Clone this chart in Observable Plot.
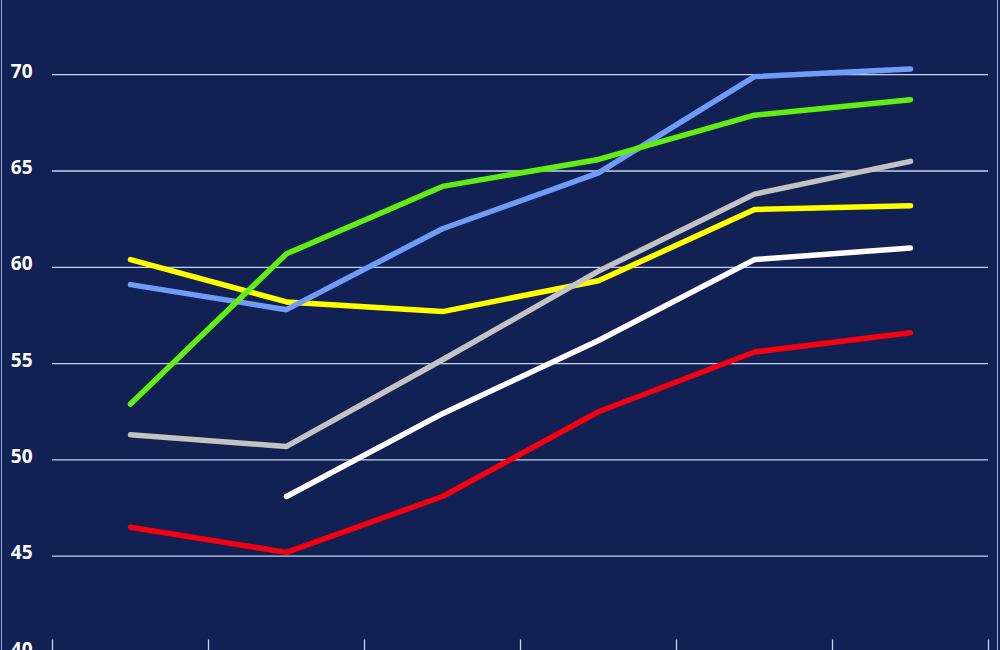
<!DOCTYPE html>
<html>
<head>
<meta charset="utf-8">
<script src="https://cdn.jsdelivr.net/npm/d3@7"></script>
<script src="https://cdn.jsdelivr.net/npm/@observablehq/plot@0.6"></script>
<style>
  html, body { margin: 0; padding: 0; background: #112154; }
  #wrap { position: relative; width: 1000px; height: 650px; overflow: hidden; background: #112154; }
  .edge { position: absolute; top: 0; width: 1px; height: 650px; background: #9fb0dc; }
</style>
</head>
<body>
<div id="wrap">
  <div id="chart"></div>
  <div class="edge" style="left:1px"></div>
  <div class="edge" style="left:997px"></div>
</div>
<script>
const categories = ["1", "2", "3", "4", "5", "6"];
const seriesNames = ["Series A", "Series B", "Series C", "Series D", "Series E", "Series F"];
const seriesColors = ["#ffff00", "#6f9cf6", "#62ee14", "#c3c3c3", "#ffffff", "#f5000f"];
const yellowValues = [60.4, 58.2, 57.7, 59.3, 63.0, 63.2];
const blueValues   = [59.1, 57.8, 62.0, 64.9, 69.9, 70.3];
const greenValues  = [52.9, 60.7, 64.2, 65.6, 67.9, 68.7];
const greyValues   = [51.3, 50.7, 55.2, 59.8, 63.8, 65.5];
const whiteValues  = [null, 48.1, 52.4, 56.2, 60.4, 61.0];
const redValues    = [46.5, 45.2, 48.1, 52.5, 55.6, 56.6];
const yTicks = [40, 45, 50, 55, 60, 65, 70];

const allSeries = [yellowValues, blueValues, greenValues, greyValues, whiteValues, redValues];
const rows = [];
allSeries.forEach((vals, s) => {
  vals.forEach((v, i) => {
    if (v != null) rows.push({series: seriesNames[s], idx: i + 0.5, cat: categories[i], value: v});
  });
});
const boundaries = d3.range(categories.length + 1);

const chart = Plot.plot({
  width: 1000,
  height: 650,
  marginLeft: 52,
  marginRight: 12,
  marginTop: 0,
  marginBottom: 0,
  style: {background: "#112154", color: "#ffffff", fontFamily: "'Open Sans', sans-serif"},
  x: {domain: [0, categories.length], axis: null},
  y: {domain: [40, 75], range: [652, -22.1], axis: null},
  color: {type: "ordinal", domain: seriesNames, range: seriesColors},
  marks: [
    Plot.ruleY(yTicks.slice(1), {stroke: "#c9d3ef", strokeWidth: 1.3}),
    Plot.ruleX(boundaries, {y1: 40, y2: 40.65, stroke: "#c9d3ef", strokeWidth: 1.3}),
    Plot.axisY(yTicks, {anchor: "left", tickSize: 0, tickPadding: 20, fontSize: 19, fontWeight: 700, fill: "#ffffff", dy: -3, label: null}),
    Plot.line(rows, {x: "idx", y: "value", z: "series", stroke: "series", strokeWidth: 5.5, strokeLinecap: "round", strokeLinejoin: "round"})
  ]
});
document.getElementById("chart").appendChild(chart);
</script>
</body>
</html>
